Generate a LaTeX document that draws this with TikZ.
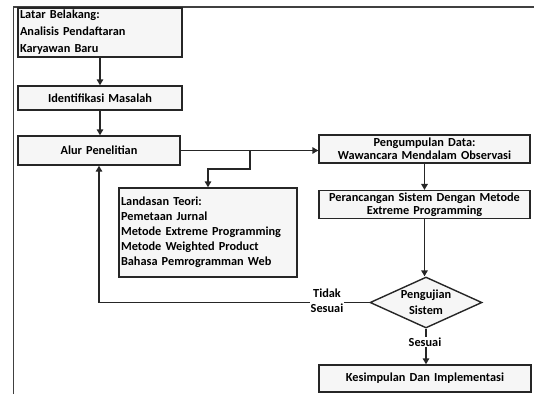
\documentclass[tikz,border=0pt]{standalone}
\usepackage{fontspec}
\setmainfont{Carlito}
\usetikzlibrary{shapes.geometric,arrows.meta}
\tikzset{
  box/.style={draw=black!85, line width=1.4pt, fill=gray!7, inner sep=2pt, align=center,
    font=\bfseries\fontsize{12.3}{15}\selectfont},
  txt/.style={inner sep=1pt, align=center, font=\bfseries\fontsize{12.3}{15}\selectfont},
  conn/.style={line width=1.4pt, draw=black!85},
  arr/.style={conn, -{Triangle[length=6pt,width=6.5pt]}},
}
\begin{document}
\begin{tikzpicture}[x=1pt,y=-1pt]
\useasboundingbox (0,0) rectangle (534,394);
\draw[line width=1.1pt, black!75] (13.5,394) -- (13.5,7) -- (534,7);

\node[box, text width=160, minimum height=49, align=left,
  font=\bfseries\fontsize{12.3}{17}\selectfont] (lb) at (100,32.5)
  {Latar Belakang:\\Analisis Pendaftaran\\Karyawan Baru};
\node[box, text width=160, minimum height=24] (im) at (100,98) {Identifikasi Masalah};
\node[box, text width=158, minimum height=29] (alur) at (99,150.5) {Alur Penelitian};
\node[box, text width=174, minimum height=89, align=left] (lt) at (208,232.5)
  {Landasan Teori:\\Pemetaan Jurnal\\Metode Extreme Programming\\Metode Weighted Product\\Bahasa Pemrogramman Web};
\node[box, text width=207, minimum height=28,
  font=\bfseries\fontsize{12.3}{13}\selectfont] (pd) at (424.5,149)
  {Pengumpulan Data:\\Wawancara Mendalam Observasi};
\node[box, text width=207, minimum height=25,
  font=\bfseries\fontsize{12.3}{13}\selectfont] (pr) at (424.5,204.5)
  {Perancangan Sistem Dengan Metode\\Extreme Programming};
\node[diamond, draw=black!85, line width=1.4pt, fill=gray!7, minimum width=112,
  minimum height=51, inner sep=0pt] (dm) at (426,302.5) {};
\node[txt, font=\bfseries\fontsize{12.3}{16}\selectfont] (dmt) at (dm.center) {Pengujian\\Sistem};
\node[box, text width=208, minimum height=27] (ks) at (425,378.5) {Kesimpulan Dan Implementasi};

\draw[arr] (lb.south) -- (im.north);
\draw[arr] (im.south) -- (im.south |- alur.north);
\draw[arr] (alur.east) -- (alur.east -| pd.west);
\coordinate (br) at (250,150.5);
\draw[arr] (br) -- (250,169) -| (lt.north);
\draw[arr] (pd.south) -- (pr.north);
\draw[arr] (pr.south) -- (pr.south |- dm.north);
\draw[arr] (dm.west) -| (alur.south);
\node[txt, fill=white] (tdk) at (327,301) {Tidak\\Sesuai};
\draw[arr] (dm.south) -- (dm.south |- ks.north);
\node[txt, fill=white] (ssi) at (425,342) {Sesuai};
\end{tikzpicture}
\end{document}
